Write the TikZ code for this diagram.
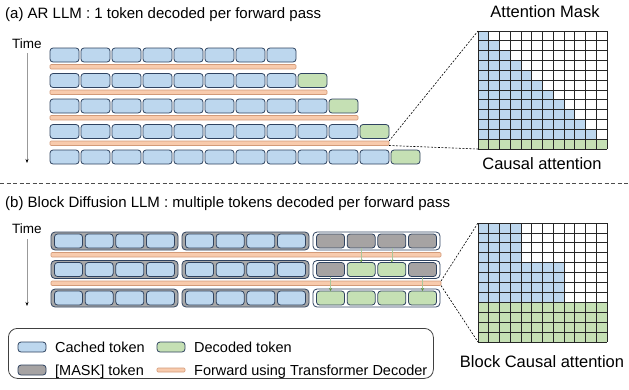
\documentclass[tikz,border=0pt]{standalone}
\usepackage{fontspec}
\setmainfont{Liberation Sans}
\usetikzlibrary{arrows.meta}
\definecolor{tokblue}{HTML}{BDD7EE}
\definecolor{tokgreen}{HTML}{C5E0B4}
\definecolor{tokgray}{HTML}{A6A3A3}
\definecolor{tokorange}{HTML}{F8CBAD}
\definecolor{navy}{HTML}{2F4360}
\definecolor{barline}{HTML}{D39A78}
\definecolor{grpgray}{HTML}{A8A8A8}
\definecolor{arrgreen}{HTML}{5E8F3E}
\definecolor{arrline}{HTML}{A9C79A}
\tikzset{
  tok/.style={draw=navy, line width=0.8pt, rounded corners=3pt, minimum width=29pt, minimum height=14pt, inner sep=0pt, outer sep=0pt, anchor=north west},
  btok/.style={tok, minimum width=28pt},
  ltok/.style={tok, minimum width=28pt, minimum height=10pt},
  fwdbar/.style={draw=barline, fill=tokorange, line width=0.6pt, minimum height=4.5pt, inner sep=0pt, outer sep=0pt, anchor=north west, rounded corners=1pt},
  grp/.style={draw=navy, line width=0.8pt, rounded corners=4pt, minimum width=127pt, minimum height=18pt, inner sep=0pt, outer sep=0pt, anchor=north west},
  gridbox/.style={inner sep=0pt, outer sep=0pt, anchor=north west},
  gridline/.style={draw=black!85, line width=0.7pt},
  dashline/.style={draw=black, line width=0.6pt, dash pattern=on 2pt off 1.5pt},
  sepline/.style={draw=black!70, line width=0.6pt, dash pattern=on 4pt off 2.5pt},
  timearrow/.style={draw=black!40, line width=0.8pt, -{Stealth[length=4pt,width=3pt,black]}},
  garrow/.style={draw=arrline, line width=0.6pt, -{Stealth[length=3pt,width=3pt,arrgreen]}},
  ttltxt/.style={font=\fontsize{15}{18}\selectfont, inner sep=0pt, anchor=base west},
  bigtxt/.style={font=\fontsize{16.5}{19}\selectfont, inner sep=0pt},
  midtxt/.style={font=\fontsize{14.5}{17}\selectfont, inner sep=0pt, anchor=base west},
  timetxt/.style={font=\fontsize{13.5}{16}\selectfont, inner sep=0pt, anchor=base west},
}
\begin{document}
\begin{tikzpicture}[x=1pt,y=-1pt]
\useasboundingbox (0,0) rectangle (629,389);
% ---------------- (a) ----------------
\node[ttltxt] (titleA) at (5,18.5) {(a) AR LLM : 1 token decoded per forward pass};
\node[bigtxt, anchor=base] (maskttl) at (545,17) {Attention Mask};
\node[timetxt] (timeA) at (12,48) {Time};
\coordinate (tA1) at (27,53);
\coordinate (tA2) at (27,163);
\draw[timearrow] (tA1) -- (tA2);
\foreach \r in {1,...,5}{
  \pgfmathsetmacro\yy{48+(\r-1)*25.5}
  \pgfmathtruncatemacro\nb{\r==1 ? 8 : 6+\r}
  \foreach \c in {1,...,\nb}{
    \node[tok, fill=tokblue] (a\r c\c) at ({50+(\c-1)*31},\yy) {};
  }
  \ifnum\r>1
    \pgfmathtruncatemacro\ng{7+\r}
    \node[tok, fill=tokgreen] (a\r c\ng) at ({50+(\ng-1)*31},\yy) {};
  \fi
}
\foreach \k in {1,...,4}{
  \pgfmathsetmacro\yy{48+(\k-1)*25.5+16.5}
  \pgfmathsetmacro\ww{(7+\k)*31-2}
  \node[fwdbar, minimum width=\ww pt] (abar\k) at (50,\yy) {};
}
% attention grid A
\node[gridbox, minimum width=129pt, minimum height=118pt] (gridA) at (478,31) {};
\foreach \i in {1,...,11}{
  \fill[tokblue] (478,{31+(\i-1)*118/12}) rectangle ({478+\i*129/12},{31+\i*118/12});
}
\fill[tokgreen] (478,{31+11*118/12}) rectangle (607,149);
\foreach \i in {0,...,12}{
  \draw[gridline] ({478+\i*129/12},31) -- ({478+\i*129/12},149);
  \draw[gridline] (478,{31+\i*118/12}) -- (607,{31+\i*118/12});
}
\draw[dashline] (abar4.north east) -- (gridA.north west);
\draw[dashline] (abar4.south east) -- (gridA.south west);
\node[bigtxt, anchor=base] (causal) at (542,169) {Causal attention};
% separator
\coordinate (sepL) at (0,183);
\coordinate (sepR) at (629,183);
\draw[sepline] (sepL) -- (sepR);
% ---------------- (b) ----------------
\node[ttltxt] (titleB) at (5,207.5) {(b) Block Diffusion LLM : multiple tokens decoded per forward pass};
\node[timetxt] (timeB) at (12,233) {Time};
\coordinate (tB1) at (27,239);
\coordinate (tB2) at (27,306);
\draw[timearrow] (tB1) -- (tB2);
\foreach \r in {1,2,3}{
  \pgfmathsetmacro\yy{232+(\r-1)*28.5}
  \foreach \g in {1,2,3}{
    \pgfmathsetmacro\gx{51+(\g-1)*131}
    \ifnum\g<3
      \node[grp, fill=grpgray] (g\r x\g) at (\gx,\yy) {};
    \else
      \node[grp, fill=white] (g\r x\g) at (\gx,\yy) {};
    \fi
    \foreach \t in {1,...,4}{
      \ifnum\g<3
        \def\tc{tokblue}
      \else
        \ifnum\r=1 \def\tc{tokgray}\fi
        \ifnum\r=2
          \ifnum\t=1 \def\tc{tokgray}\else\ifnum\t=4 \def\tc{tokgray}\else\def\tc{tokgreen}\fi\fi
        \fi
        \ifnum\r=3 \def\tc{tokgreen}\fi
      \fi
      \node[btok, fill=\tc] (b\r g\g t\t) at ({\gx+3.5+(\t-1)*30.667},{\yy+2}) {};
    }
  }
}
\foreach \k in {1,2}{
  \pgfmathsetmacro\yy{232+(\k-1)*28.5+20.5}
  \node[fwdbar, minimum width=390pt] (bbar\k) at (51,\yy) {};
}
\draw[garrow] (b1g3t2.south) -- (b2g3t2.north);
\draw[garrow] (b1g3t3.south) -- (b2g3t3.north);
\draw[garrow] (b2g3t1.south) -- (b3g3t1.north);
\draw[garrow] (b2g3t4.south) -- (b3g3t4.north);
% attention grid B
\node[gridbox, minimum width=129pt, minimum height=119pt] (gridB) at (478,223) {};
\foreach \i in {1,...,4}{
  \fill[tokblue] (478,{223+(\i-1)*119/12}) rectangle ({478+4*129/12},{223+\i*119/12});
}
\foreach \i in {5,...,8}{
  \fill[tokblue] (478,{223+(\i-1)*119/12}) rectangle ({478+8*129/12},{223+\i*119/12});
}
\fill[tokgreen] (478,{223+8*119/12}) rectangle (607,342);
\foreach \i in {0,...,12}{
  \draw[gridline] ({478+\i*129/12},223) -- ({478+\i*129/12},342);
  \draw[gridline] (478,{223+\i*119/12}) -- (607,{223+\i*119/12});
}
\draw[dashline] (bbar2.north east) -- (gridB.north west);
\draw[dashline] (bbar2.south east) -- (gridB.south west);
\node[bigtxt, anchor=base] (bcausal) at (542,367) {Block Causal attention};
% legend
\node[draw=black!75, line width=0.8pt, rounded corners=9pt, minimum width=425pt, minimum height=50pt, inner sep=0pt, anchor=north west] (legend) at (8,328) {};
\node[ltok, fill=tokblue] (lgblue) at (18,342) {};
\node[midtxt] (lgbluet) at (55,352.2) {Cached token};
\node[ltok, fill=tokgreen] (lggreen) at (157,342) {};
\node[midtxt] (lggreent) at (194,352.2) {Decoded token};
\node[ltok, fill=tokgray] (lggray) at (18,365) {};
\node[midtxt] (lggrayt) at (55,375.2) {[MASK] token};
\node[fwdbar, minimum width=28pt, minimum height=4pt] (lgbar) at (157,368) {};
\node[midtxt] (lgbart) at (194,375.2) {Forward using Transformer Decoder};
\end{tikzpicture}
\end{document}
